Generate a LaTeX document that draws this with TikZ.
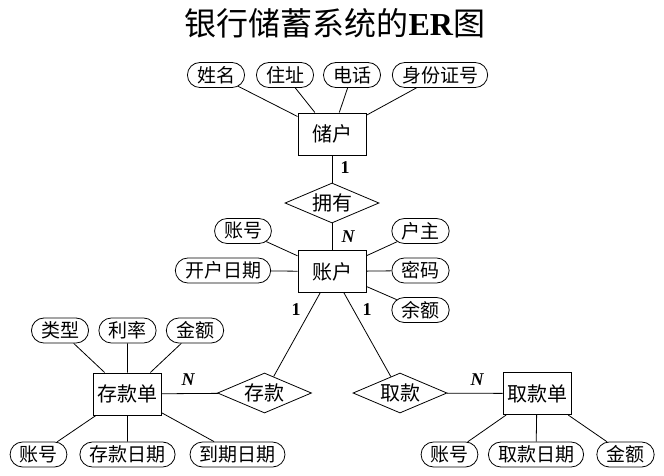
\documentclass[tikz,border=0pt]{standalone}
\usepackage{fontspec}
\setmainfont{Liberation Serif}
\newfontfamily\cjk{Noto Sans CJK SC}
\usetikzlibrary{shapes.geometric,shapes.misc}

\tikzset{
    entity/.style={draw, line width=1pt, minimum width=68pt, minimum height=42pt,
        inner xsep=3pt, font=\cjk\fontsize{20}{20}\selectfont},
    attr/.style={draw, rounded rectangle, inner xsep=6pt, inner ysep=0pt,
        minimum height=25pt, font=\cjk\fontsize{19}{19}\selectfont},
    relation/.style={draw, diamond, aspect=2.35, inner sep=0pt, minimum width=94pt,
        minimum height=40pt, font=\cjk\fontsize{20}{20}\selectfont},
    card/.style={inner sep=0pt, font=\bfseries\fontsize{18}{18}\selectfont},
}

\begin{document}
\begin{tikzpicture}[x=1pt, y=-1pt, line width=0.8pt]
    \useasboundingbox (0,0) rectangle (664,475);
    \node (title) at (335,23) {\fontsize{32}{32}\selectfont{\cjk 银行储蓄系统的}\textbf{ER}{\cjk 图}};

    % entities
    \node[entity] (chuhu) at (332,134) {储户};
    \node[entity] (zhanghu) at (332,271.5) {账户};
    \node[entity] (cunkuandan) at (127.5,394) {存款单};
    \node[entity] (qukuandan) at (537,393.5) {取款单};

    % relations
    \node[relation] (yongyou) at (332,203) {拥有};
    \node[relation] (cunkuan) at (264.5,393) {存款};
    \node[relation] (qukuan) at (400,393) {取款};

    % attributes of 储户
    \node[attr] (xingming) at (216,75) {姓名};
    \node[attr] (zhuzhi) at (285,75) {住址};
    \node[attr] (dianhua) at (352,75) {电话};
    \node[attr] (sfzh) at (440,75) {身份证号};
    \foreach \a in {xingming,zhuzhi,dianhua,sfzh}
        \draw (\a)--(chuhu);

    % attributes of 账户
    \node[attr] (zh1) at (243,231) {账号};
    \node[attr] (kaihu) at (223,270.5) {开户日期};
    \node[attr] (huzhu) at (420.5,231) {户主};
    \node[attr] (mima) at (420.5,270.5) {密码};
    \node[attr] (yue) at (420.5,310) {余额};
    \foreach \a in {zh1,kaihu,huzhu,mima,yue}
        \draw (\a)--(zhanghu);

    % attributes of 存款单
    \node[attr] (leixing) at (60,330.5) {类型};
    \node[attr] (lilv) at (127.5,330.5) {利率};
    \node[attr] (je1) at (195,330.5) {金额};
    \node[attr] (zh2) at (38.5,454.5) {账号};
    \node[attr] (ckrq) at (127.5,454.5) {存款日期};
    \node[attr] (dqrq) at (237.5,454.5) {到期日期};
    \foreach \a in {leixing,lilv,je1,zh2,ckrq,dqrq}
        \draw (\a)--(cunkuandan);

    % attributes of 取款单
    \node[attr] (zh3) at (449.5,454.5) {账号};
    \node[attr] (qkrq) at (536,454.5) {取款日期};
    \node[attr] (je2) at (625.5,454.5) {金额};
    \foreach \a in {zh3,qkrq,je2}
        \draw (\a)--(qukuandan);

    % relationships
    \draw (chuhu)--(yongyou);
    \draw (yongyou)--(zhanghu);
    \draw (zhanghu)--(cunkuan);
    \draw (zhanghu)--(qukuan);
    \draw (cunkuan)--(cunkuandan);
    \draw (qukuan)--(qukuandan);

    % cardinalities
    \node[card] (c1) at (345,168) {1};
    \node[card] (c2) at (348,237) {\itshape N};
    \node[card] (c3) at (296,310) {1};
    \node[card] (c4) at (367,310) {1};
    \node[card] (c5) at (188,380) {\itshape N};
    \node[card] (c6) at (477,380) {\itshape N};
\end{tikzpicture}
\end{document}
